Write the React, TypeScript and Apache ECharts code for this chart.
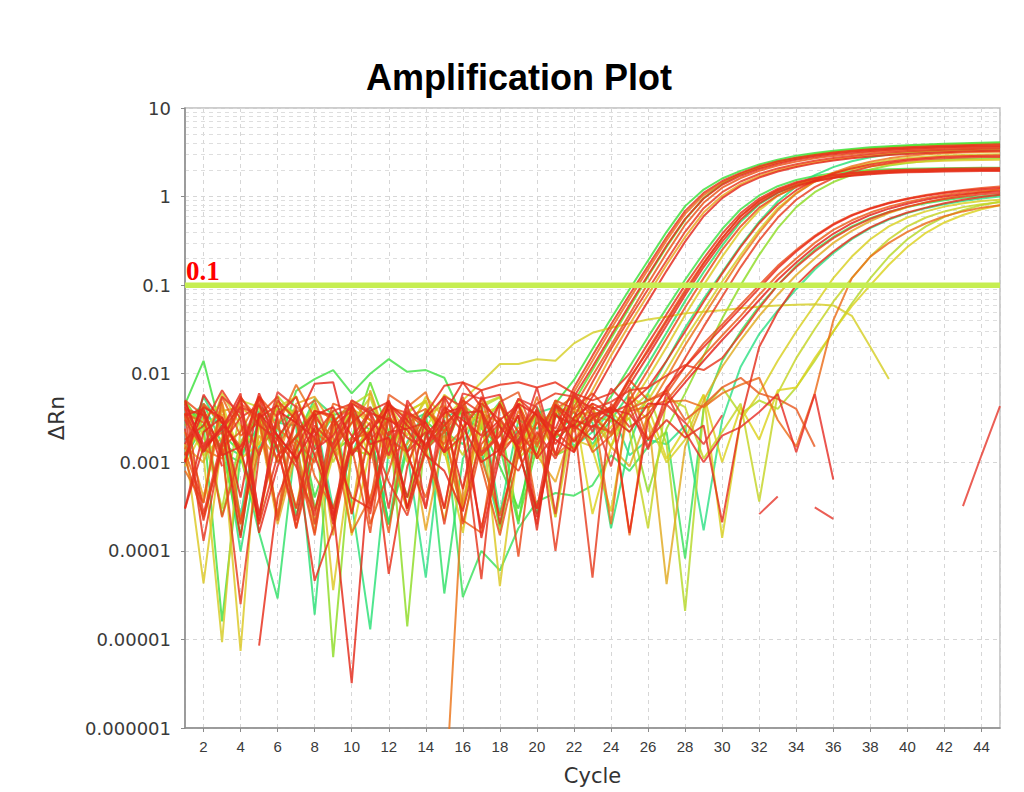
import React, { useEffect, useRef } from 'react';
import * as echarts from 'echarts';

const cycles = [1,2,3,4,5,6,7,8,9,10,11,12,13,14,15,16,17,18,19,20,21,22,23,24,25,26,27,28,29,30,31,32,33,34,35,36,37,38,39,40,41,42,43,44,45];
const yTickLabels = ['0.000001','0.00001','0.0001','0.001','0.01','0.1','1','10'];
const threshold = 0.1;
const thresholdLabel = '0.1';

// Group A (earliest, plateau ~4)
const a1 = [4.5e-3,1.4e-2,2.1e-3,1.3e-3,2.5e-4,2.7e-3,3.9e-3,4e-4,1.7e-3,3.4e-3,2.3e-3,2e-4,1.4e-3,2.9e-3,1.9e-3,4.1e-3,2.6e-3,9e-4,3e-4,1.8e-3,4.6e-3,
  8.5e-3,0.019,0.042,0.09,0.19,0.4,0.78,1.2,1.6,1.95,2.3,2.6,2.9,3.1,3.3,3.45,3.6,3.7,3.8,3.88,3.95,4.0,4.05,4.1];
const a2 = [1.8e-3,2.6e-3,6.5e-3,3.1e-3,2e-4,1.2e-3,1.9e-3,3.6e-3,1.4e-3,4e-4,3e-4,2.2e-3,2.4e-3,2.8e-3,1.3e-3,2e-3,1.8e-4,1.5e-3,5.2e-3,3.4e-3,2.4e-3,
  7e-3,0.016,0.036,0.078,0.165,0.35,0.69,1.1,1.5,1.85,2.2,2.5,2.75,2.95,3.15,3.3,3.42,3.52,3.6,3.68,3.75,3.8,3.85,3.9];
const a3 = [8e-4,3.5e-4,4.8e-3,2.2e-4,1.4e-3,2.6e-3,7.5e-3,3.2e-3,1.9e-3,1.6e-4,4e-4,1.8e-3,1.3e-3,3.8e-3,2.6e-3,4.2e-3,1.1e-3,2.5e-4,1.4e-3,5.5e-3,1.2e-3,
  6.2e-3,0.014,0.032,0.07,0.15,0.32,0.64,1.04,1.44,1.8,2.12,2.42,2.68,2.9,3.08,3.24,3.36,3.46,3.55,3.62,3.68,3.73,3.77,3.8];
const a4 = [3e-4,1.5e-3,2.4e-3,6e-3,1.6e-4,9e-4,2.8e-3,1.9e-3,2.5e-4,1.6e-3,3.6e-3,3e-3,2.3e-3,1.2e-3,8e-4,2.8e-4,1.9e-3,3e-3,4.5e-3,1.1e-3,2.1e-3,
  5.5e-3,0.012,0.027,0.06,0.13,0.28,0.56,0.95,1.36,1.72,2.05,2.35,2.6,2.82,3.0,3.15,3.28,3.38,3.47,3.54,3.6,3.64,3.67,3.7];
const a5 = [5e-3,2.4e-3,1.4e-3,1.5e-4,2.8e-3,4e-3,3.8e-3,3e-4,1.3e-3,1.9e-3,8e-3,2.2e-3,4e-4,1.4e-3,2.6e-3,4.4e-3,1e-3,2.9e-3,2.2e-4,1.5e-3,3.2e-3,
  4.8e-3,0.011,0.025,0.056,0.125,0.27,0.55,0.96,1.4,1.8,2.16,2.48,2.76,3.0,3.2,3.37,3.5,3.62,3.72,3.8,3.87,3.92,3.96,4.0];
const a6 = [1.1e-3,2.4e-4,1.5e-3,2.2e-3,5.5e-3,3.2e-3,1.8e-4,1.2e-3,2.9e-3,4.2e-3,2e-4,8e-4,3.6e-3,2.4e-3,1.6e-3,5e-3,9e-4,1.5e-4,1.2e-3,2.8e-3,2e-3,
  4.2e-3,9.5e-3,0.021,0.047,0.105,0.23,0.48,0.85,1.26,1.62,1.95,2.24,2.48,2.7,2.88,3.03,3.16,3.27,3.36,3.43,3.49,3.54,3.57,3.6];
const a7 = [3.5e-3,1.3e-4,1.6e-3,5.5e-3,2.6e-3,1.8e-3,9e-4,2.5e-4,3.2e-3,1.3e-3,2.1e-3,6e-4,2.5e-4,1.5e-3,2.6e-3,4.4e-3,6.5e-3,1.3e-3,8e-4,2.2e-3,1.1e-3,
  3.2e-3,8e-3,0.019,0.042,0.09,0.19,0.4,0.74,1.12,1.48,1.8,2.08,2.32,2.54,2.72,2.88,3.02,3.14,3.24,3.32,3.38,3.43,3.47,3.5];
const a8 = [2.2e-3,4e-4,3.5e-3,2e-4,2e-3,1.1e-3,4.6e-3,5.5e-3,2.6e-3,2.6e-4,6.5e-3,1.5e-3,3e-3,1.7e-4,2e-3,3.5e-4,4e-3,1.4e-3,2.5e-3,1.2e-3,6e-4,
  2.8e-3,6.5e-3,0.016,0.036,0.078,0.17,0.35,0.66,1.02,1.38,1.7,1.98,2.22,2.44,2.62,2.78,2.92,3.04,3.14,3.22,3.28,3.33,3.37,3.4];
const a9 = [5e-3,1.3e-3,2.6e-3,1.4e-4,3.6e-3,2e-3,1.1e-3,2.4e-3,2e-4,4.5e-3,1.6e-3,1.9e-3,4e-4,3.2e-3,5.5e-3,2.5e-3,1e-3,1.4e-3,3.4e-3,2.4e-4,2.2e-3,
  2.6e-3,5.5e-3,0.013,0.03,0.066,0.145,0.31,0.6,0.96,1.32,1.64,1.92,2.16,2.37,2.55,2.7,2.83,2.94,3.03,3.11,3.17,3.22,3.26,3.3];

// Group B (plateau ~2)
const b1 = [1.1e-3,2.7e-3,1.6e-5,1.2e-3,2.6e-3,1.4e-3,6.4e-3,8.7e-3,1.1e-2,6e-3,1e-2,1.46e-2,1.05e-2,1.1e-2,9e-3,3.2e-3,2.4e-3,1.5e-3,2e-4,4.2e-3,1.9e-3,2.6e-3,
  3e-3,5.5e-3,0.012,0.026,0.055,0.115,0.23,0.43,0.72,1.03,1.31,1.54,1.71,1.84,1.93,1.99,2.03,2.06,2.08,2.09,2.1,2.11,2.12];
const b2 = [3.6e-3,1.4e-3,2.4e-3,4.2e-3,2.5e-4,2e-3,1.1e-3,4.6e-5,1.8e-4,1.6e-3,2.8e-3,5.5e-5,9e-4,3.5e-3,7.3e-3,8e-3,6.5e-3,7.5e-3,8e-3,7e-3,8e-3,6e-3,
  5e-3,6e-3,0.01,0.022,0.047,0.1,0.2,0.38,0.65,0.95,1.22,1.45,1.62,1.75,1.84,1.9,1.95,1.98,2.0,2.02,2.03,2.04,2.05];
const b3 = [1.3e-3,3.5e-4,5.5e-3,2e-3,2.8e-3,1.5e-3,3.4e-3,7e-4,3e-4,1.8e-3,2.2e-3,4.4e-3,1.2e-3,4e-4,2.4e-3,2.2e-4,1.6e-4,3.2e-3,1.4e-3,2e-3,4.6e-3,1.3e-3,
  3.1e-3,4e-3,8.5e-3,0.019,0.041,0.088,0.18,0.34,0.6,0.89,1.16,1.39,1.56,1.69,1.78,1.85,1.9,1.93,1.95,1.97,1.98,1.99,2.0];
const b4 = [3e-4,2.2e-3,3.2e-3,1.2e-3,6e-3,1.9e-3,3.8e-3,1.2e-3,3e-4,3.2e-6,1.2e-3,4.6e-3,2.6e-3,1.6e-3,3e-3,5e-4,5.5e-3,2.5e-3,1.5e-3,2e-4,3.4e-3,2.6e-3,
  1.8e-3,3.4e-3,7.5e-3,0.016,0.035,0.077,0.16,0.31,0.55,0.84,1.11,1.33,1.5,1.63,1.72,1.79,1.84,1.88,1.9,1.92,1.93,1.94,1.95];
const b5 = [2.8e-3,4.6e-3,1.6e-3,1.2e-3,1.6e-4,2.9e-5,1.9e-3,5.2e-3,3.4e-3,1.3e-3,2.4e-3,2e-4,1.7e-3,3.8e-3,3.3e-5,1.1e-3,2.6e-3,4.8e-3,1.4e-3,2.6e-4,2.2e-3,3.2e-3,
  1.6e-3,3e-3,6e-3,0.013,0.029,0.066,0.14,0.28,0.52,0.82,1.1,1.35,1.55,1.7,1.8,1.88,1.94,1.98,2.0,2.02,2.03,2.04,2.05];
const b6 = [4.8e-3,1.5e-3,2.2e-3,2e-4,3.4e-3,5.5e-3,1.2e-3,1.5e-4,2.6e-3,3.8e-3,1.8e-3,3e-3,3e-4,1.3e-3,5.5e-3,2e-4,1.6e-3,2.8e-3,8.6e-5,3.5e-3,2.2e-3,1.4e-3,
  2.6e-3,2.2e-3,5e-3,0.011,0.025,0.056,0.12,0.25,0.46,0.75,1.03,1.28,1.48,1.63,1.74,1.82,1.88,1.92,1.95,1.97,1.98,1.99,2.0];
const b7 = [1.6e-3,4.3e-5,1.8e-3,7.4e-6,3.2e-3,2e-3,3e-4,4.2e-3,3.6e-5,1.3e-3,2.4e-3,4.4e-3,3.2e-3,1.5e-3,2.2e-4,2.6e-3,3.6e-3,4e-5,1.5e-3,2.8e-3,3.6e-3,1.8e-3,
  1.5e-3,2.5e-3,4.2e-3,9e-3,0.02,0.046,0.1,0.21,0.41,0.7,1.02,1.32,1.6,1.84,2.04,2.2,2.32,2.42,2.49,2.54,2.57,2.59,2.6];
const b8 = [2.4e-3,2.2e-4,1.6e-3,3.2e-3,4.4e-3,2e-3,3e-4,2.6e-3,1.6e-3,3.6e-3,2.6e-4,3.2e-3,1.9e-3,1.4e-3,4e-3,2.2e-3,4.8e-5,4.5e-3,2.2e-3,1.2e-3,4.4e-3,2.4e-3,
  3.5e-3,3.8e-3,9e-3,0.018,0.039,0.083,0.175,0.34,0.6,0.9,1.18,1.42,1.6,1.74,1.84,1.92,1.97,2.01,2.04,2.06,2.08,2.09,2.1];

// Group E (plateau ~3)
const e1 = [1.2e-3,5.5e-3,2.2e-3,9.8e-5,1.5e-3,2.8e-3,2.6e-3,1.9e-5,3.8e-3,3.5e-4,1.3e-5,1.4e-3,2.8e-3,3.6e-3,2.2e-3,1.6e-3,4.6e-3,2.6e-4,3e-3,2.4e-3,4.2e-3,3.6e-3,2.8e-3,1.8e-4,
  1.6e-3,6e-3,0.014,0.033,0.07,0.14,0.28,0.52,0.88,1.3,1.75,2.15,2.5,2.78,2.98,3.12,3.22,3.3,3.35,3.38,3.4];
const e2 = [3.2e-3,1.2e-3,9.3e-6,2.6e-3,1.6e-3,4.6e-3,3.4e-3,2e-4,2.2e-3,4e-3,1.1e-3,3.2e-3,2.4e-3,5e-3,1.3e-3,3e-4,3.6e-3,4.2e-3,2.8e-3,1.8e-3,2.4e-4,3.2e-3,3.8e-3,2e-3,
  3.2e-3,5e-3,0.011,0.025,0.052,0.11,0.22,0.42,0.74,1.1,1.48,1.82,2.12,2.38,2.58,2.72,2.82,2.9,2.95,2.98,3.0];
const e3 = [1e-3,4.4e-3,2.8e-3,1.3e-3,5.5e-3,2.4e-3,1.6e-3,1.6e-4,2.8e-3,4.8e-3,3e-3,1.8e-3,2.8e-4,null,1e-7,5e-4,3.4e-3,1.4e-3,2e-3,3.8e-3,1.2e-3,1.8e-3,3.4e-3,4.2e-3,
  1.5e-4,4e-3,9e-3,0.021,0.045,0.095,0.2,0.39,0.7,1.08,1.48,1.86,2.2,2.48,2.7,2.88,3.0,3.09,3.15,3.18,3.2];
const e4 = [4e-3,3.4e-3,1.4e-3,2.5e-5,1.2e-3,5e-3,3e-3,2.8e-4,1.4e-3,2.8e-3,4.2e-3,2e-3,3.8e-3,2.6e-3,2e-4,2.4e-3,4.6e-3,3e-3,1.6e-3,3.8e-3,1e-4,3e-3,5e-5,4.6e-3,
  2.5e-3,3.5e-3,6.5e-3,0.015,0.034,0.074,0.16,0.32,0.58,0.92,1.28,1.62,1.92,2.18,2.38,2.53,2.64,2.71,2.76,2.79,2.8];
const e5 = [2.6e-3,4.2e-3,2.5e-4,1.7e-3,3.4e-3,1e-3,2e-3,4.6e-3,6.3e-6,1.4e-3,1.2e-3,3.6e-3,1.4e-5,2.6e-3,1.4e-3,4.4e-3,3e-3,1.7e-4,2.1e-3,3.8e-3,1.2e-3,1.5e-3,3.4e-3,2.9e-3,
  3.1e-3,4.6e-4,2.4e-3,6e-3,0.016,0.042,0.1,0.22,0.44,0.76,1.12,1.46,1.76,2.02,2.24,2.4,2.52,2.6,2.65,2.68,2.7];
const e6 = [1.2e-3,3.8e-3,9e-4,null,8.5e-6,4e-4,1.4e-3,3.8e-3,3.4e-3,2.6e-4,2.2e-3,5e-3,1.3e-3,3e-4,3.6e-3,8e-3,4.2e-3,2e-4,1.8e-3,4e-3,1.6e-3,3.2e-3,4.6e-3,3.6e-3,
  4.5e-3,7e-3,0.014,0.03,0.065,0.135,0.27,0.5,0.82,1.18,1.52,1.82,2.08,2.3,2.48,2.62,2.73,2.81,2.86,2.89,2.9];

// Group C (plateau ~1.1)
const c1 = [1.6e-3,4.2e-3,3.2e-3,4e-4,5.5e-3,1.4e-3,2.2e-4,3.4e-3,4.2e-3,2e-3,1.2e-3,4.6e-3,3e-3,1.5e-3,4.2e-3,3e-3,2e-3,4.6e-3,1.3e-3,3e-4,3.6e-3,1.7e-3,3.2e-3,4.2e-3,1.6e-4,3e-3,
  7e-3,0.012,0.02,0.033,0.055,0.092,0.155,0.24,0.35,0.48,0.61,0.73,0.84,0.94,1.02,1.1,1.16,1.21,1.25];
const c2 = [3.6e-3,2.8e-3,1.2e-3,4.6e-3,3.2e-3,2.4e-4,1.8e-3,1e-3,4.6e-3,3.8e-3,1.5e-3,1.6e-4,3.2e-3,4e-3,2.2e-3,4.2e-3,1.2e-3,2.2e-3,4.6e-3,3e-4,2e-3,3.8e-3,1.3e-3,2e-3,3.8e-3,4.2e-3,
  5e-3,9e-3,0.016,0.027,0.045,0.078,0.13,0.2,0.3,0.42,0.54,0.66,0.77,0.87,0.96,1.04,1.11,1.16,1.2];
const c3 = [1e-3,5.8e-3,2.8e-3,1.4e-3,2.2e-4,3.8e-3,2.8e-3,7.7e-3,8e-3,1.2e-3,2.2e-3,4e-3,3e-4,2e-3,3.6e-3,4.2e-3,1.4e-4,1.2e-3,4.6e-3,3.4e-3,1.8e-3,1.3e-3,4.2e-3,3.2e-3,2.2e-3,4.6e-3,
  4.5e-3,8e-3,0.014,0.024,0.04,0.068,0.115,0.18,0.27,0.38,0.5,0.62,0.73,0.83,0.92,1.0,1.06,1.11,1.15];
const c4 = [3e-3,3.8e-3,1.3e-3,1e-3,4.4e-3,2.8e-3,2.5e-4,1.5e-3,3.4e-3,4e-3,1.8e-3,2e-4,3.4e-3,1.3e-3,2.8e-3,3e-5,1e-4,6e-5,1.8e-4,3.6e-4,4.5e-4,4.2e-4,5.5e-4,1.2e-3,8e-4,1.5e-3,
  2.2e-3,8.2e-5,4e-3,0.014,0.03,0.058,0.1,0.165,0.25,0.35,0.46,0.57,0.67,0.76,0.84,0.91,0.97,1.01,1.05];
const c5 = [4.6e-3,2.6e-4,1.8e-3,4.2e-3,3.4e-3,1.5e-3,1.8e-4,2e-3,3.8e-3,4.6e-3,3.2e-4,1.6e-3,3.6e-3,2.8e-3,1.3e-3,5e-3,3.6e-3,1.2e-3,2.2e-3,4.6e-3,6e-3,5.5e-3,4e-3,4.8e-3,6.5e-3,7e-3,
  0.0095,0.0125,0.011,0.015,0.028,0.055,0.1,0.16,0.24,0.34,0.45,0.56,0.67,0.77,0.86,0.94,1.0,1.06,1.1];
const c6 = [1.5e-3,1e-3,3.8e-3,4.2e-3,2.8e-3,2e-4,1.3e-3,3.4e-3,1.5e-4,4e-3,3e-3,1.2e-3,1.6e-3,3.4e-3,4.4e-3,3e-4,3.6e-3,2.8e-3,1.5e-3,1.2e-3,3.8e-3,4e-3,3.2e-3,1.5e-3,9e-4,3.4e-3,
  4.2e-5,1.5e-3,5e-3,0.012,0.024,0.045,0.078,0.13,0.2,0.3,0.41,0.53,0.65,0.76,0.86,0.95,1.04,1.12,1.2];
const c7 = [3.4e-3,4e-3,1.2e-3,1.5e-3,3.2e-3,4.4e-3,1e-3,3.4e-3,2.2e-4,1.9e-3,3.8e-3,4.8e-3,1.3e-3,2.2e-3,3e-4,3.6e-3,3.8e-3,1.5e-3,3.4e-3,1.7e-4,4.5e-3,3e-3,2.5e-3,4e-3,3.5e-3,1.8e-3,
  3e-3,1.9e-3,2.6e-3,2.1e-4,3e-3,0.02,0.05,0.1,0.16,0.24,0.34,0.45,0.56,0.66,0.75,0.84,0.92,0.99,1.05];
const c8 = [1e-3,3.4e-3,2.6e-3,2.5e-4,3.8e-3,1.3e-3,1.9e-3,3.6e-3,3e-4,1.2e-3,4.2e-3,1.9e-3,1.3e-3,5e-5,3.2e-3,4e-3,1.3e-3,1.9e-4,1.8e-3,3.6e-3,4.2e-3,1.5e-3,2.2e-3,3.8e-3,1.2e-3,1.8e-3,
  1.6e-3,2.6e-3,1.7e-4,3e-3,0.012,0.028,0.052,0.09,0.15,0.23,0.33,0.44,0.55,0.65,0.74,0.82,0.89,0.95,1.0];
const c9 = [5e-3,3.4e-3,2.4e-4,1.3e-3,4.6e-3,1e-3,2e-3,3.8e-3,3.2e-3,1.5e-3,1.6e-4,4.2e-3,3.6e-3,1.3e-3,3e-4,4e-3,1.2e-3,2e-3,4.4e-3,1.8e-3,5e-3,4e-3,6e-3,3.6e-3,8.5e-3,5e-3,
  6e-3,0.012,0.022,0.036,0.06,0.1,0.165,0.25,0.36,0.49,0.62,0.74,0.85,0.95,1.04,1.12,1.19,1.25,1.3];

// Group D (latest, plateau ~0.9)
const d1 = [9e-4,2.4e-3,4e-3,1.1e-3,1.6e-3,4.8e-3,3e-3,2e-4,1.2e-3,4.2e-3,2.6e-3,1.1e-3,3.6e-3,5e-3,1.4e-3,1.6e-4,2.8e-3,4.6e-3,1.1e-3,3.8e-3,2e-3,5.6e-3,1.4e-3,2.8e-4,4.8e-3,3e-3,1e-3,1.8e-3,5.8e-3,1.4e-4,
  3e-3,6e-3,0.014,0.03,0.06,0.12,0.21,0.33,0.46,0.58,0.68,0.77,0.84,0.89,0.92];
const d2 = [3.6e-3,1.2e-3,1.9e-3,5e-3,4.2e-3,2.4e-4,1.6e-3,4.6e-3,1e-3,2.8e-3,5.4e-3,1.4e-3,3e-4,4e-3,2.6e-3,1.2e-3,4.5e-3,5.5e-3,1.1e-3,1.8e-3,3.5e-3,6e-3,1.4e-3,3.8e-3,2.2e-3,1.8e-4,5.4e-3,4.2e-3,1.1e-3,2.2e-3,4.6e-3,
  3.6e-4,6e-3,0.015,0.032,0.065,0.12,0.21,0.33,0.46,0.58,0.68,0.76,0.82,0.86];
const d3 = [1.1e-3,3.2e-3,4.6e-3,1.2e-3,2e-4,3.5e-3,5.6e-3,1.7e-3,3.8e-3,1.5e-4,1.4e-3,4.8e-3,1e-3,2.4e-3,5.8e-3,4e-3,1.4e-3,2e-3,5.2e-3,1.1e-3,3.6e-3,4.4e-3,2.6e-4,1.5e-3,5.5e-3,4.2e-3,1.1e-3,2.4e-3,5.8e-3,1e-3,4.2e-3,1.8e-3,6.5e-3,
  7e-3,0.015,0.03,0.058,0.1,0.17,0.27,0.39,0.51,0.62,0.72,0.8];
const d4 = [4e-3,1.4e-3,1.1e-3,5.4e-3,3e-3,2.5e-4,4.4e-3,2.2e-3,1.5e-3,5e-3,3.6e-3,1.2e-3,4.2e-3,6.2e-3,1.4e-3,2.4e-3,5.2e-3,1.2e-3,3.8e-3,1.5e-3,5e-3,2.2e-3,4.6e-3,2e-4,7e-3,1.8e-3,4.8e-3,5e-3,4.2e-3,6e-3,7.5e-3,9e-3,3e-3,1.5e-3,
  6e-3,0.04,0.12,0.21,0.3,0.4,0.5,0.6,0.68,0.75,0.8];
const d5 = [4.8e-3,2e-3,3e-4,4e-3,1.2e-3,5.6e-3,3.2e-3,2e-4,1.4e-3,4.4e-3,6e-3,1.4e-3,3.8e-3,4.8e-3,1.2e-3,2e-3,4.2e-3,5.4e-3,1.4e-3,3.6e-3,2.4e-4,5e-3,4.2e-3,1.5e-3,3.8e-3,6e-3,1.6e-3,2.1e-5,4e-3,7e-3,3.5e-3,5e-3,
  4e-3,7e-3,0.014,0.03,0.062,0.12,0.21,0.33,0.46,0.59,0.7,0.8,0.88];

// Wells that never cross the threshold
const y1 = [3.4e-3,1.3e-3,6e-3,2.6e-3,1.2e-3,4.2e-3,5.5e-3,1.6e-3,3.6e-3,3e-4,2.4e-3,4.6e-3,2e-3,5.5e-3,3.2e-3,
  5e-3,8e-3,0.0129,0.0129,0.0146,0.014,0.022,0.029,0.033,0.037,0.041,0.044,0.048,0.05,0.052,0.055,0.057,0.059,0.06,0.061,0.059,0.045,0.02,0.0087,
  null,null,null,null,null,null];
const r1 = [4.2e-3,1.6e-3,2.4e-3,5.2e-3,2.5e-4,3.4e-3,5.5e-3,1.4e-3,2e-3,4.6e-3,3.6e-3,3e-4,5e-3,2.4e-3,1.3e-3,6e-3,5.2e-3,5.8e-3,1.6e-3,7e-3,1.2e-3,6.2e-3,2.2e-3,6.8e-3,4.2e-3,1.4e-3,6e-3,2.2e-3,1e-3,
  2e-3,2.5e-3,3.7e-3,5.9e-3,1.3e-3,5.9e-3,6.4e-4,
  null,null,null,null,null,null,null,null,null];
const r1b = [1.4e-3,4.6e-3,2.8e-3,1.5e-3,5.4e-3,2.2e-4,3.6e-3,5e-3,1.4e-3,3.5e-3,3.4e-4,5.8e-3,4.2e-3,1.4e-3,2.2e-3,5.4e-3,1.2e-3,4.8e-3,6.2e-3,1.6e-3,4e-3,5.5e-3,3.3e-3,2.1e-3,4e-3,5e-3,6.5e-3,3e-3,4.4e-3,7e-3,9e-3,
  6e-3,5.2e-3,4e-3,1.5e-3,
  null,null,null,null,null,null,null,null,null,null];
const r2 = [3e-3,1.4e-3,5.5e-3,3.6e-3,1.2e-3,6.2e-3,4.2e-3,2e-4,1.6e-3,5e-3,3.8e-3,1.2e-3,4.6e-3,3e-4,5.6e-3,4.2e-3,1.3e-3,2e-3,5.2e-3,4.2e-3,2.6e-4,6e-3,3.6e-3,9e-4,5.4e-3,1.5e-3,4.5e-3,2.8e-3,1.6e-3,3.4e-3,
  null,2.6e-4,4.1e-4,null,3.1e-4,2.3e-4,null,null,null,null,null,null,3.2e-4,1.2e-3,4.3e-3];

const wells = [
  { values: b1, color: '#40e046' }, { values: a1, color: '#3ae03c' }, { values: e1, color: '#2ae076' },
  { values: c4, color: '#3ae05c' }, { values: a5, color: '#5ee02a' }, { values: b5, color: '#30e068' },
  { values: c8, color: '#2ee086' }, { values: e5, color: '#8edc24' }, { values: d5, color: '#b6d828' },
  { values: e2, color: '#d6cc24' }, { values: b7, color: '#dcc822' }, { values: d1, color: '#d8d020' },
  { values: d2, color: '#c4d424' }, { values: d3, color: '#dcd21e' }, { values: y1, color: '#d6ce26' },
  { values: a8, color: '#e8a41e' }, { values: c6, color: '#e0aa20' }, { values: e3, color: '#ec7418' },
  { values: d4, color: '#ec6c1a' }, { values: a3, color: '#ec6a18' }, { values: b3, color: '#ec5e18' },
  { values: c2, color: '#ec5c18' }, { values: a6, color: '#ea5216' }, { values: b6, color: '#ea4818' },
  { values: c9, color: '#ea4c1a' }, { values: r1b, color: '#e85a22' }, { values: a2, color: '#e8321a' },
  { values: b2, color: '#e8301a' }, { values: e4, color: '#e63c1e' }, { values: c1, color: '#e8281a' },
  { values: a4, color: '#e42a1a' }, { values: b4, color: '#e42a1a' }, { values: c3, color: '#e4221a' },
  { values: e6, color: '#e82c18' }, { values: c5, color: '#e8381e' }, { values: a7, color: '#e6361c' },
  { values: b8, color: '#e6341c' }, { values: c7, color: '#e42e1c' }, { values: a9, color: '#e4261a' },
  { values: r1, color: '#e63028' }, { values: r2, color: '#e63a30' },
];

export default function App() {
  const ref = useRef<HTMLDivElement>(null);
  useEffect(() => {
    document.body.style.margin = '0';
    const chart = echarts.init(ref.current as HTMLDivElement, null, { renderer: 'svg' });
    const minorValues: number[] = [];
    for (let e = -6; e < 1; e++) {
      for (let m = 2; m <= 9; m++) minorValues.push(m * Math.pow(10, e));
    }
    const wellSeries = wells.map((w) => ({
      type: 'line',
      data: w.values.map((v, i) => [cycles[i], v]),
      showSymbol: false,
      symbol: 'none',
      silent: true,
      connectNulls: false,
      clip: true,
      z: 2,
      lineStyle: { color: w.color, width: 2, opacity: 0.82 },
    }));
    const option = {
      animation: false,
      backgroundColor: '#ffffff',
      title: {
        text: 'Amplification Plot',
        left: 361,
        top: 54,
        textStyle: { fontFamily: 'Liberation Sans', fontWeight: 'bold', fontSize: 36, color: '#000' },
      },
      grid: { left: 185, right: 24, top: 108, bottom: 64, show: true, borderColor: '#bdbdbd', borderWidth: 1.5 },
      xAxis: {
        type: 'value',
        min: 1,
        max: 45,
        splitNumber: 22,
        name: 'Cycle',
        nameLocation: 'middle',
        nameGap: 37,
        nameTextStyle: { fontFamily: 'DejaVu Sans', fontSize: 21, color: '#333' },
        axisLine: { show: true, onZero: false, lineStyle: { color: '#8a8a8a', width: 1.5 } },
        axisTick: { show: true, length: 4, lineStyle: { color: '#8a8a8a' } },
        axisLabel: { showMinLabel: false, showMaxLabel: false, color: '#3a3a3a', fontFamily: 'Liberation Sans', fontSize: 15, margin: 11 },
        splitLine: { show: true, lineStyle: { color: '#d6d6d6', type: [4, 4] } },
      },
      yAxis: {
        type: 'log',
        logBase: 10,
        min: 1e-6,
        max: 10,
        splitNumber: 7,
        name: 'ΔRn',
        nameLocation: 'middle',
        nameGap: 118,
        nameRotate: 90,
        nameTextStyle: { fontFamily: 'DejaVu Sans', fontSize: 22, color: '#333' },
        axisLine: { show: true, lineStyle: { color: '#8a8a8a', width: 1.5 } },
        axisTick: { show: true, length: 4, lineStyle: { color: '#8a8a8a' } },
        axisLabel: {
          color: '#3a3a3a', fontFamily: 'DejaVu Sans', fontSize: 18, margin: 14,
          formatter: (v: number) => yTickLabels[Math.round(Math.log10(v)) + 6] ?? '',
        },
        splitLine: { show: true, lineStyle: { color: '#d6d6d6', type: [4, 4] } },
      },
      series: [
        {
          type: 'line',
          data: [],
          silent: true,
          z: 0,
          markLine: {
            silent: true,
            z: 0,
            symbol: 'none',
            animation: false,
            label: { show: false },
            lineStyle: { color: '#dedede', type: [4, 4], width: 1 },
            data: minorValues.map((v) => ({ yAxis: v })),
          },
        },
        ...wellSeries,
        {
          type: 'line',
          data: [[cycles[0], threshold], [cycles[cycles.length - 1], threshold]],
          showSymbol: false,
          symbol: 'none',
          silent: true,
          z: 10,
          lineStyle: { color: '#c6ee52', width: 5.5 },
          markLine: {
            silent: true,
            symbol: 'none',
            animation: false,
            z: 11,
            lineStyle: { color: 'rgba(0,0,0,0)', width: 1, type: 'solid' },
            label: {
              show: true,
              position: 'insideStartTop',
              formatter: thresholdLabel,
              color: '#ff0000',
              fontFamily: 'Liberation Serif',
              fontWeight: 'bold',
              fontSize: 27,
              distance: 1,
            },
            data: [{ yAxis: threshold }],
          },
        },
      ],
    };
    chart.setOption(option as any);
    return () => chart.dispose();
  }, []);
  return <div ref={ref} style={{ position: 'absolute', left: 0, top: 0, width: 1024, height: 792, background: '#fff' }} />;
}
